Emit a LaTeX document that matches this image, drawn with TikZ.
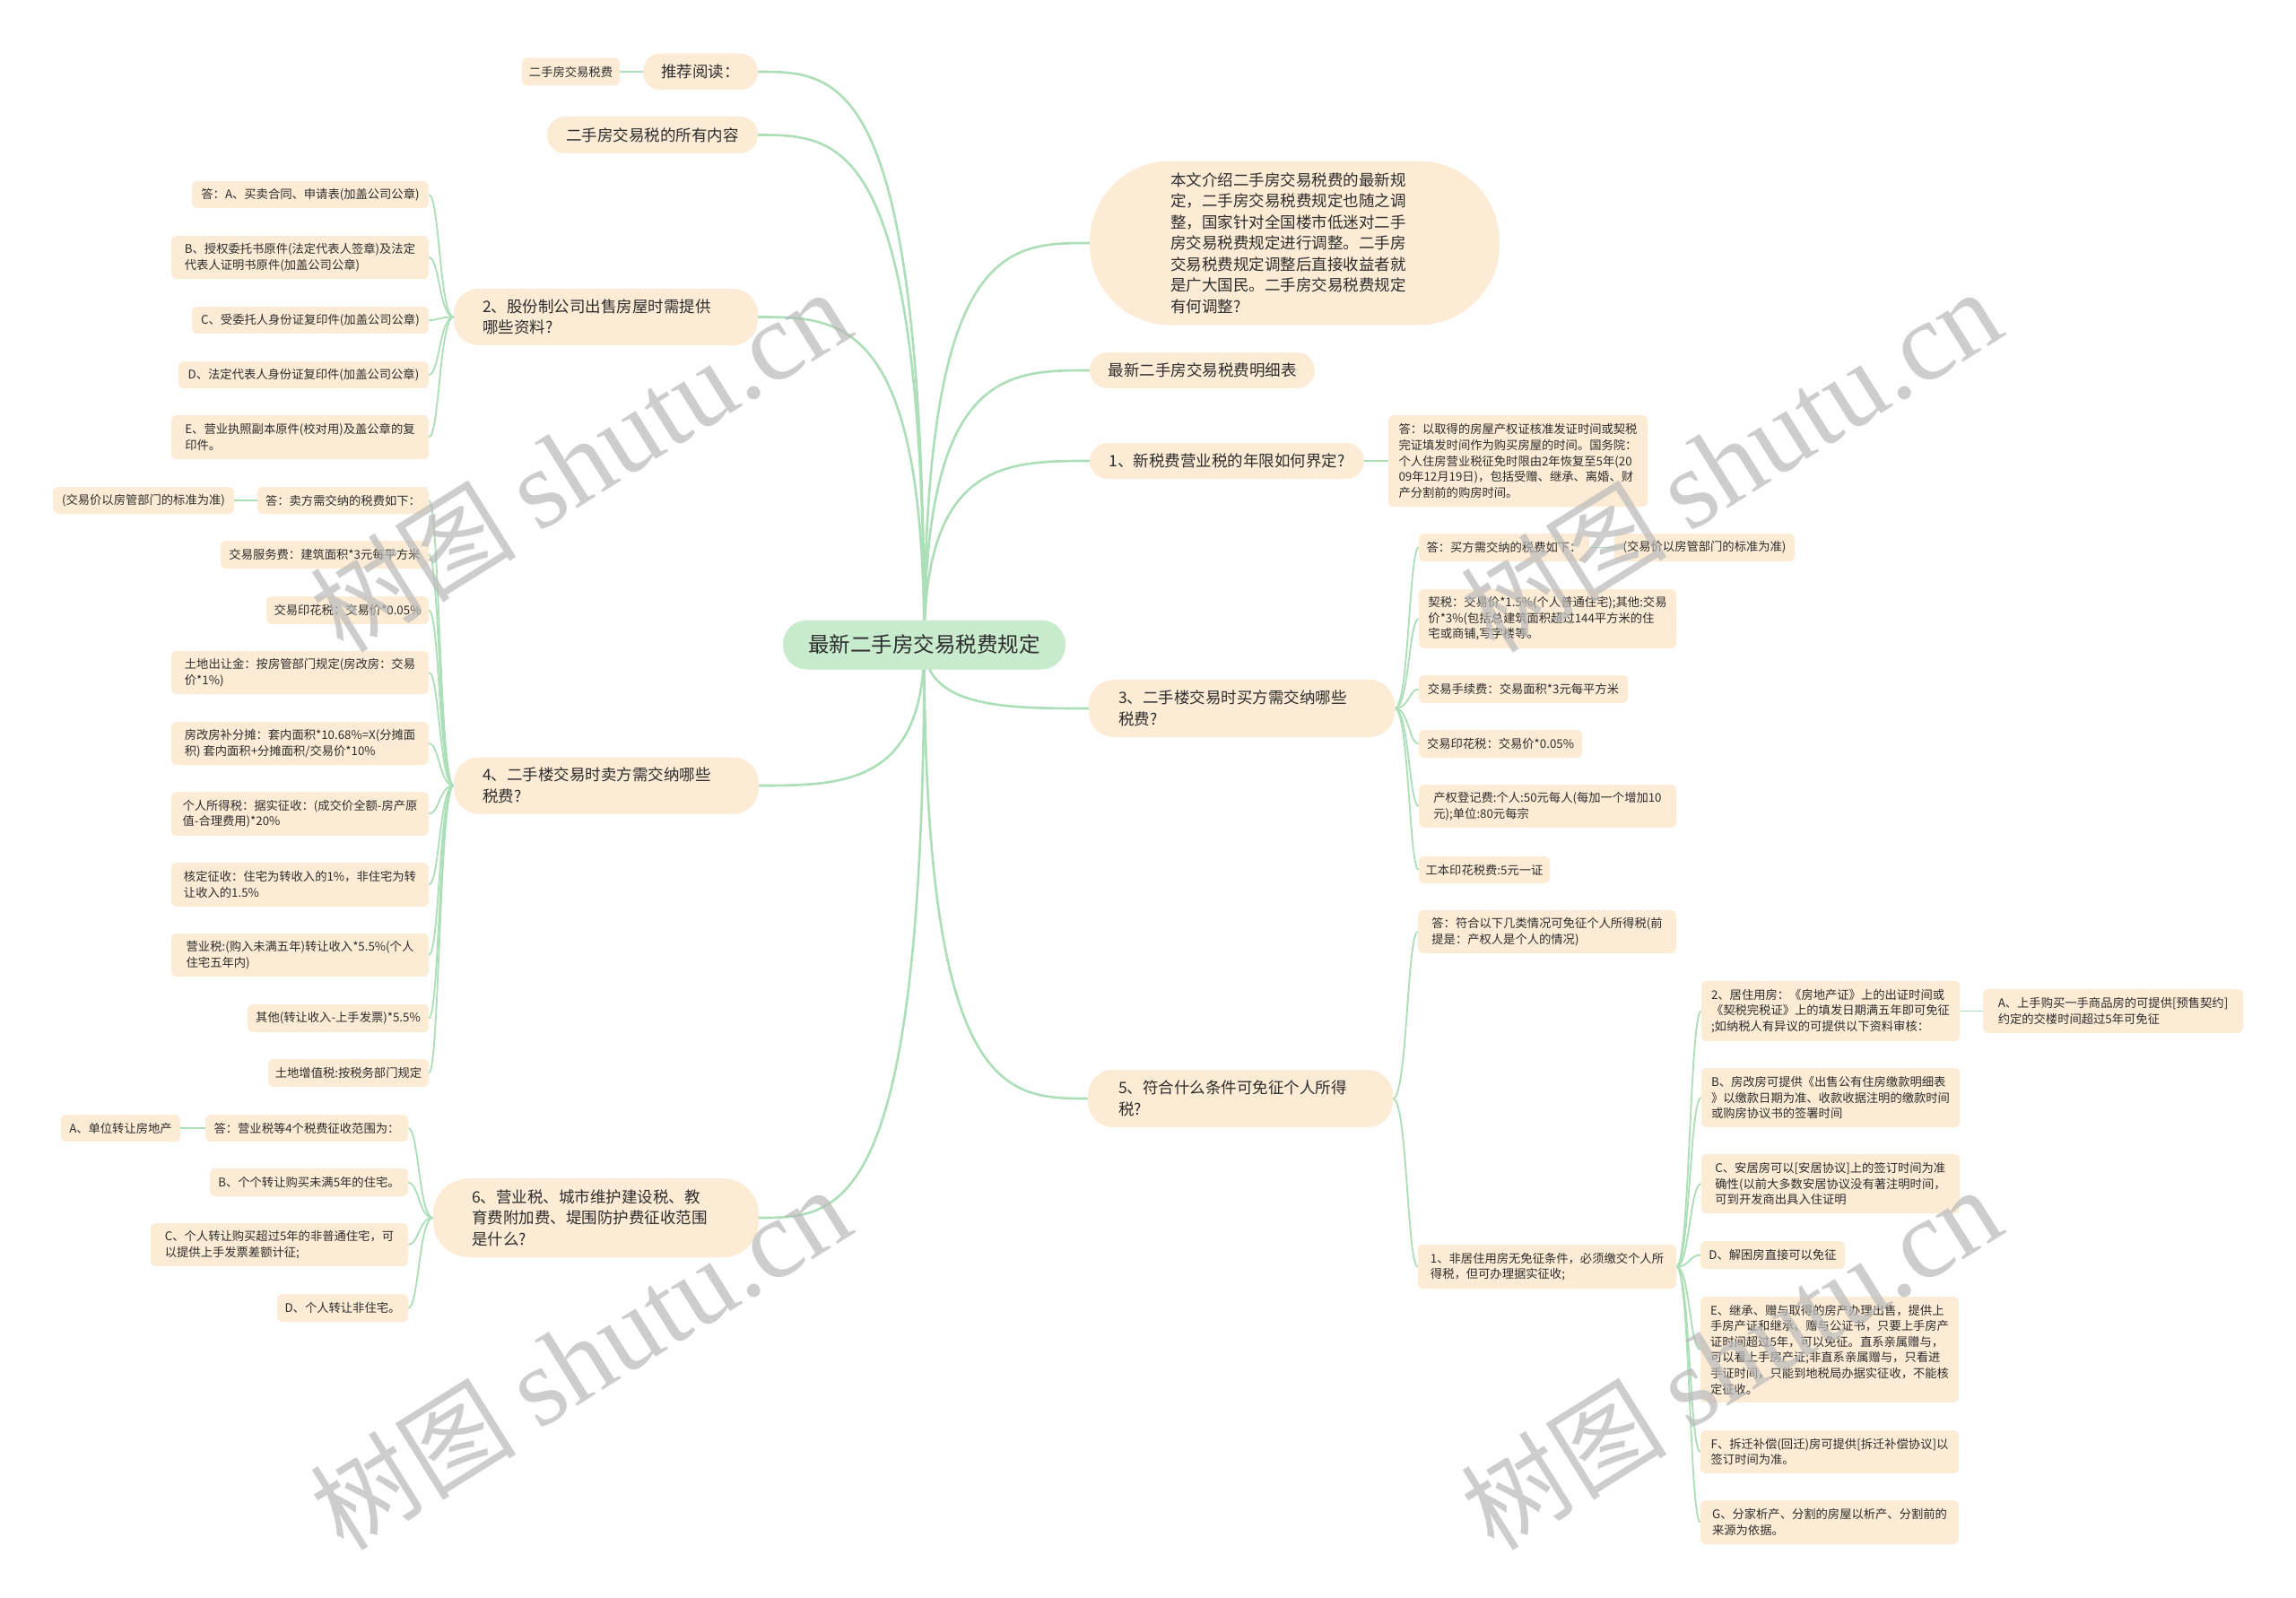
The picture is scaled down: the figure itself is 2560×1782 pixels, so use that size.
\documentclass[tikz,border=0pt]{standalone}
\usepackage{fontspec}
\setmainfont{Noto Sans CJK SC}
\newfontfamily\wmlatin{Liberation Serif}
\usetikzlibrary{backgrounds}
\definecolor{peach}{RGB}{253,236,213}
\definecolor{mint}{RGB}{200,234,205}
\definecolor{linkc}{RGB}{172,222,184}
\definecolor{txt}{RGB}{45,45,45}
\definecolor{wmc}{RGB}{185,185,185}
\newcommand{\lnk}[3]{\draw[leafedge] (#1) .. controls (#1 -| #3) and (#2 -| #3) .. (#2);}
\newcommand{\mlnk}[2]{\draw[mainedge] (c.center) .. controls (c.center |- #1) and (#2 |- #1) .. (#1);}
\newcommand{\wmtext}{\fontsize{115}{115}\selectfont 树图 {\wmlatin\fontsize{125}{125}\selectfont shutu.cn}}
\begin{document}
\begin{tikzpicture}[x=1pt,y=-1pt,
 box/.style 2 args={minimum width=#1pt,minimum height=#2pt,inner sep=0pt,align=left,text=txt,fill=peach},
 leaf/.style 2 args={box={#1}{#2},rounded corners=6pt,font=\fontsize{13.3}{17.6}\selectfont},
 branch/.style 2 args={box={#1}{#2},font=\fontsize{17.5}{23.5}\selectfont},
 mainedge/.style={draw=linkc,line width=2.6pt},
 leafedge/.style={draw=linkc,line width=1.8pt},
 wm/.style={text=wmc,text opacity=0.7,rotate=32,inner sep=0pt}]
\useasboundingbox (0,0) rectangle (2560,1782);

% central
\node[branch={315}{55},fill=mint,rounded corners=27pt,font=\fontsize{23.5}{28}\selectfont] (c) at (1030.5,719) {最新二手房交易税费规定};

% ---------- left side ----------
\node[branch={128}{41},rounded corners=20pt] (b1) at (781,80) {推荐阅读：};
\node[leaf={109}{31}] (n0) at (636.5,80) {二手房交易税费};
\node[branch={235}{41},rounded corners=20pt] (b2) at (727.5,150.5) {二手房交易税的所有内容};

\node[branch={339}{63},rounded corners=28pt,text width=275pt] (b3) at (675.5,353.5) {2、股份制公司出售房屋时需提供\\哪些资料?};
\node[leaf={264}{30}] (l3a) at (346,217) {答：A、买卖合同、申请表(加盖公司公章)};
\node[leaf={287}{48}] (l3b) at (334.5,287) {B、授权委托书原件(法定代表人签章)及法定\\代表人证明书原件(加盖公司公章)};
\node[leaf={264}{30}] (l3c) at (346,357) {C、受委托人身份证复印件(加盖公司公章)};
\node[leaf={279}{30}] (l3d) at (338.5,418) {D、法定代表人身份证复印件(加盖公司公章)};
\node[leaf={287}{49}] (l3e) at (334.5,487.5) {E、营业执照副本原件(校对用)及盖公章的复\\印件。};

\node[branch={340}{63},rounded corners=28pt,text width=276pt] (b4) at (676,876) {4、二手楼交易时卖方需交纳哪些\\税费?};
\node[leaf={191}{30}] (l4a) at (382.5,558) {答：卖方需交纳的税费如下：};
\node[leaf={202}{30}] (l4z) at (160,558) {(交易价以房管部门的标准为准)};
\node[leaf={232}{31}] (l4b) at (362,618.5) {交易服务费：建筑面积*3元每平方米};
\node[leaf={181}{31}] (l4c) at (387.5,680.5) {交易印花税：交易价*0.05\%};
\node[leaf={287}{48}] (l4d) at (334.5,750) {土地出让金：按房管部门规定(房改房：交易\\价*1\%)};
\node[leaf={287}{48}] (l4e) at (334.5,829) {房改房补分摊：套内面积*10.68\%=X(分摊面\\积) 套内面积+分摊面积/交易价*10\%};
\node[leaf={287}{49}] (l4f) at (334.5,907.5) {个人所得税：据实征收：(成交价全额-房产原\\值-合理费用)*20\%};
\node[leaf={287}{49}] (l4g) at (334.5,986.5) {核定征收：住宅为转收入的1\%，非住宅为转\\让收入的1.5\%};
\node[leaf={287}{48}] (l4h) at (334.5,1065) {营业税:(购入未满五年)转让收入*5.5\%(个人\\住宅五年内)};
\node[leaf={202}{31}] (l4i) at (377,1135.5) {其他(转让收入-上手发票)*5.5\%};
\node[leaf={179}{31}] (l4j) at (388.5,1196.5) {土地增值税:按税务部门规定};

\node[branch={363}{88},rounded corners=40pt,text width=277pt] (b6) at (664.5,1358) {6、营业税、城市维护建设税、教\\育费附加费、堤围防护费征收范围\\是什么?};
\node[leaf={226}{30}] (l6a) at (342,1258) {答：营业税等4个税费征收范围为：};
\node[leaf={133}{30}] (l6z) at (134.5,1258) {A、单位转让房地产};
\node[leaf={221}{31}] (l6b) at (344.5,1318.5) {B、个个转让购买未满5年的住宅。};
\node[leaf={287}{48}] (l6c) at (311.5,1388) {C、个人转让购买超过5年的非普通住宅，可\\以提供上手发票差额计征;};
\node[leaf={146}{31}] (l6d) at (382,1458.5) {D、个人转让非住宅。};

% ---------- right side ----------
\node[branch={457}{183},rounded corners=90pt,text width=277pt] (r0) at (1443.5,271) {本文介绍二手房交易税费的最新规\\定，二手房交易税费规定也随之调\\整，国家针对全国楼市低迷对二手\\房交易税费规定进行调整。二手房\\交易税费规定调整后直接收益者就\\是广大国民。二手房交易税费规定\\有何调整?};
\node[branch={251}{40},rounded corners=20pt] (r1) at (1340.5,413) {最新二手房交易税费明细表};
\node[branch={306}{40},rounded corners=20pt] (r2) at (1368,514) {1、新税费营业税的年限如何界定?};
\node[leaf={289}{102}] (r2a) at (1692.5,514) {答：以取得的房屋产权证核准发证时间或契税\\完证填发时间作为购买房屋的时间。国务院：\\个人住房营业税征免时限由2年恢复至5年(20\\09年12月19日)，包括受赠、继承、离婚、财\\产分割前的购房时间。};

\node[branch={341}{64},rounded corners=28pt,text width=275pt] (r3) at (1384.5,790) {3、二手楼交易时买方需交纳哪些\\税费?};
\node[leaf={190}{31}] (r3a) at (1677,610.5) {答：买方需交纳的税费如下：};
\node[leaf={201}{31}] (r3z) at (1900.5,610.5) {(交易价以房管部门的标准为准)};
\node[leaf={287}{66}] (r3b) at (1725.5,690) {契税：交易价*1.5\%(个人普通住宅);其他:交易\\价*3\%(包括总建筑面积超过144平方米的住\\宅或商铺,写字楼等。};
\node[leaf={233}{31}] (r3c) at (1698.5,768.5) {交易手续费：交易面积*3元每平方米};
\node[leaf={182}{31}] (r3d) at (1673,829.5) {交易印花税：交易价*0.05\%};
\node[leaf={287}{48}] (r3e) at (1725.5,899) {产权登记费:个人:50元每人(每加一个增加10\\元);单位:80元每宗};
\node[leaf={146}{30}] (r3f) at (1655,970) {工本印花税费:5元一证};

\node[branch={340}{64},rounded corners=28pt,text width=272pt] (r5) at (1383,1225) {5、符合什么条件可免征个人所得\\税?};
\node[leaf={288}{48}] (r5a) at (1725,1039) {答：符合以下几类情况可免征个人所得税(前\\提是：产权人是个人的情况)};
\node[leaf={288}{49}] (r5b) at (1725,1412.5) {1、非居住用房无免征条件，必须缴交个人所\\得税，但可办理据实征收;};
\node[leaf={288}{67}] (s1) at (2041,1127.5) {2、居住用房：《房地产证》上的出证时间或\\《契税完税证》上的填发日期满五年即可免征\\;如纳税人有异议的可提供以下资料审核：};
\node[leaf={290}{49}] (s1a) at (2356,1127.5) {A、上手购买一手商品房的可提供[预售契约]\\约定的交楼时间超过5年可免征};
\node[leaf={288}{66}] (s2) at (2041,1224) {B、房改房可提供《出售公有住房缴款明细表\\》以缴款日期为准、收款收据注明的缴款时间\\或购房协议书的签署时间};
\node[leaf={288}{66}] (s3) at (2041,1320) {C、安居房可以[安居协议]上的签订时间为准\\确性(以前大多数安居协议没有著注明时间，\\可到开发商出具入住证明};
\node[leaf={161}{31}] (s4) at (1976.5,1399.5) {D、解困房直接可以免征};
\node[leaf={288}{118}] (s5) at (2040,1505) {E、继承、赠与取得的房产办理出售，提供上\\手房产证和继承、赠与公证书，只要上手房产\\证时间超过5年，可以免征。直系亲属赠与，\\可以看上手房产证;非直系亲属赠与，只看进\\手证时间，只能到地税局办据实征收，不能核\\定征收。};
\node[leaf={288}{48}] (s6) at (2040,1619) {F、拆迁补偿(回迁)房可提供[拆迁补偿协议]以\\签订时间为准。};
\node[leaf={288}{49}] (s7) at (2040,1697.5) {G、分家析产、分割的房屋以析产、分割前的\\来源为依据。};

% trunk helpers
\coordinate (ml) at (938,0);
\coordinate (mr) at (1122,0);
\coordinate (t3) at (490,0);
\coordinate (t6) at (467,0);
\coordinate (u3) at (1571,0);
\coordinate (u5) at (1569,0);
\coordinate (u5b) at (1884,0);

\begin{scope}[on background layer]
\fill[white] (0,0) rectangle (2560,1782);
\mlnk{b1.east}{ml}
\mlnk{b2.east}{ml}
\mlnk{b3.east}{ml}
\mlnk{b4.east}{ml}
\mlnk{b6.east}{ml}
\mlnk{r0.west}{mr}
\mlnk{r1.west}{mr}
\mlnk{r2.west}{mr}
\mlnk{r3.west}{mr}
\mlnk{r5.west}{mr}
\draw[leafedge] (b1.west) -- (n0.east);
\lnk{b3.west}{l3a.east}{t3}
\lnk{b3.west}{l3b.east}{t3}
\lnk{b3.west}{l3c.east}{t3}
\lnk{b3.west}{l3d.east}{t3}
\lnk{b3.west}{l3e.east}{t3}
\lnk{b4.west}{l4a.east}{t3}
\lnk{b4.west}{l4b.east}{t3}
\lnk{b4.west}{l4c.east}{t3}
\lnk{b4.west}{l4d.east}{t3}
\lnk{b4.west}{l4e.east}{t3}
\lnk{b4.west}{l4f.east}{t3}
\lnk{b4.west}{l4g.east}{t3}
\lnk{b4.west}{l4h.east}{t3}
\lnk{b4.west}{l4i.east}{t3}
\lnk{b4.west}{l4j.east}{t3}
\draw[leafedge] (l4a.west) -- (l4z.east);
\lnk{b6.west}{l6a.east}{t6}
\lnk{b6.west}{l6b.east}{t6}
\lnk{b6.west}{l6c.east}{t6}
\lnk{b6.west}{l6d.east}{t6}
\draw[leafedge] (l6a.west) -- (l6z.east);
\draw[leafedge] (r2.east) -- (r2a.west);
\lnk{r3.east}{r3a.west}{u3}
\lnk{r3.east}{r3b.west}{u3}
\lnk{r3.east}{r3c.west}{u3}
\lnk{r3.east}{r3d.west}{u3}
\lnk{r3.east}{r3e.west}{u3}
\lnk{r3.east}{r3f.west}{u3}
\draw[leafedge] (r3a.east) -- (r3z.west);
\lnk{r5.east}{r5a.west}{u5}
\lnk{r5.east}{r5b.west}{u5}
\lnk{r5b.east}{s1.west}{u5b}
\lnk{r5b.east}{s2.west}{u5b}
\lnk{r5b.east}{s3.west}{u5b}
\lnk{r5b.east}{s4.west}{u5b}
\lnk{r5b.east}{s5.west}{u5b}
\lnk{r5b.east}{s6.west}{u5b}
\lnk{r5b.east}{s7.west}{u5b}
\draw[leafedge] (s1.east) -- (s1a.west);
\end{scope}

% watermarks
\node[wm] (wm1) at (647,514) {\wmtext};
\node[wm] (wm2) at (1930,514) {\wmtext};
\node[wm] (wm3) at (647,1515) {\wmtext};
\node[wm] (wm4) at (1930,1515) {\wmtext};
\end{tikzpicture}
\end{document}
